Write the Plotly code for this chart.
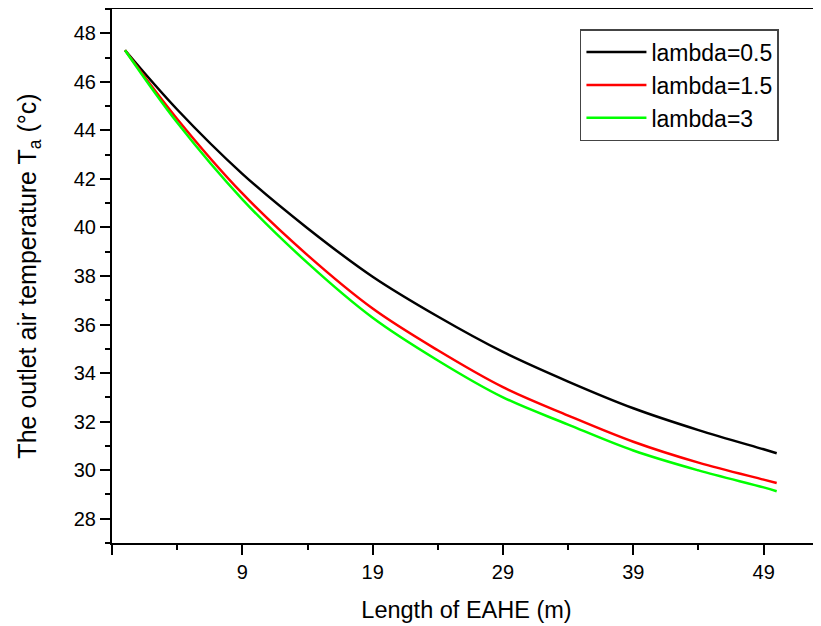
import plotly.graph_objects as go

length_m = [0, 4, 9, 14, 19, 24, 29, 34, 39, 44, 49, 50]
t_lambda_05 = [47.3, 44.86, 42.21, 39.97, 37.97, 36.33, 34.87, 33.65, 32.55, 31.65, 30.86, 30.70]
t_lambda_15 = [47.3, 44.47, 41.40, 38.86, 36.66, 34.94, 33.42, 32.25, 31.17, 30.31, 29.61, 29.47]
t_lambda_3 = [47.3, 44.32, 41.16, 38.54, 36.28, 34.52, 33.00, 31.88, 30.81, 29.99, 29.29, 29.13]

series = [
    ("lambda=0.5", t_lambda_05, "#000000"),
    ("lambda=1.5", t_lambda_15, "#ff0000"),
    ("lambda=3", t_lambda_3, "#00ff00"),
]

x_tickvals = [-1, 9, 19, 29, 39, 49]
x_ticktext = ["", "9", "19", "29", "39", "49"]

fig = go.Figure()
for name, vals, color in series:
    fig.add_trace(go.Scatter(
        x=length_m, y=vals, mode="lines", name=name,
        line=dict(color=color, width=2.5, shape="spline", smoothing=1.0),
    ))

font = "Liberation Sans, Arial, sans-serif"
fig.update_layout(
    width=813, height=618,
    margin=dict(l=104, r=0, t=1, b=83),
    paper_bgcolor="white", plot_bgcolor="white",
    font=dict(family=font, size=20, color="black"),
    showlegend=True,
    legend=dict(
        x=0.660, y=0.9625, xanchor="left", yanchor="top",
        bordercolor="#444444", borderwidth=1.5,
        font=dict(size=23, family=font),
        itemwidth=60, tracegroupgap=0,
        bgcolor="white",
    ),
    xaxis=dict(
        range=[-1, 53.4], showgrid=False, zeroline=False,
        showline=True, linecolor="black", linewidth=2, mirror=True,
        tickmode="array", tickvals=x_tickvals, ticktext=x_ticktext,
        ticks="outside", ticklen=10, tickwidth=2, tickcolor="black",
        minor=dict(tickmode="linear", tick0=4, dtick=10, ticks="outside",
                   ticklen=5, tickwidth=2, tickcolor="black"),
        tickfont=dict(size=20),
        title=dict(text="Length of EAHE (m)", font=dict(size=23.5), standoff=20),
    ),
    yaxis=dict(
        range=[27, 49], showgrid=False, zeroline=False,
        showline=True, linecolor="black", linewidth=2,
        tickmode="linear", tick0=28, dtick=2,
        ticks="outside", ticklen=10, tickwidth=2, tickcolor="black",
        minor=dict(tickmode="linear", tick0=27, dtick=1, ticks="outside",
                   ticklen=5, tickwidth=2, tickcolor="black"),
        tickfont=dict(size=20),
        title=dict(text="The outlet air temperature T<sub>a</sub> (°c)",
                   font=dict(size=25), standoff=30),
    ),
)

fig.write_html("out.html")
